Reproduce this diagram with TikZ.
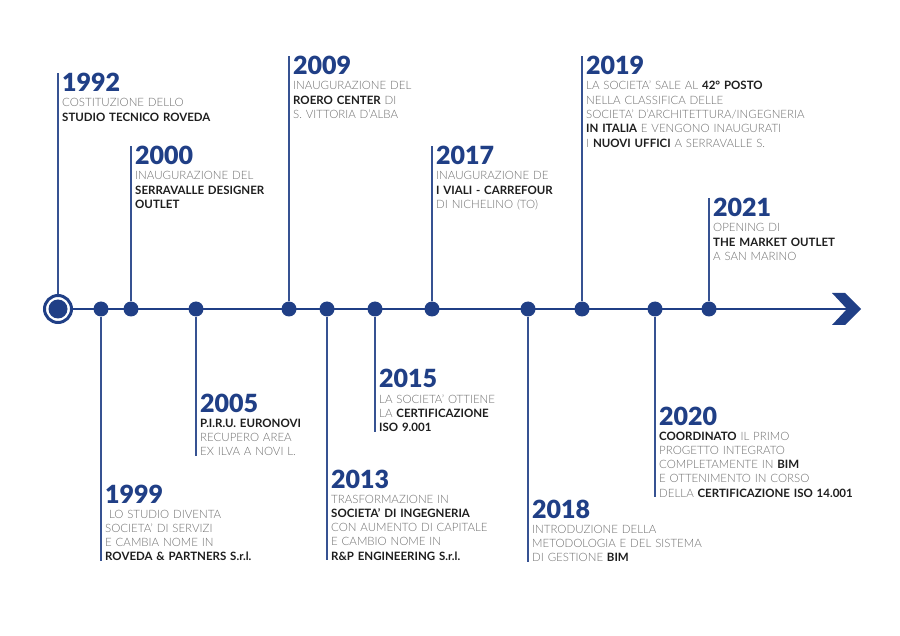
\documentclass[tikz,border=0pt]{standalone}
\usepackage{fontspec}
\setmainfont{Lato}[UprightFont=* Light, BoldFont=* Bold]
\newfontfamily\grasse{Lato Black}

\definecolor{bleu}{HTML}{203F86}
\definecolor{gris}{HTML}{6F6F6F}
\definecolor{noir}{HTML}{1E1E1E}
\newcommand{\gras}[1]{{\bfseries\color{noir}#1}}

\tikzset{
  annee/.style={anchor=base west, inner sep=0pt, text=bleu, font=\fontsize{25}{25}\selectfont\grasse},
  texte/.style={anchor=base west, inner sep=0pt, text=gris, text width=240pt, align=left, font=\fontsize{11.5}{14.3}\selectfont},
  axe/.style={bleu, line width=2.2pt},
  tige/.style={bleu!90!white, line width=1.6pt},
  point/.style={circle, fill=bleu, inner sep=0pt, minimum size=15pt},
}

\begin{document}
\begin{tikzpicture}[x=1pt, y=-1pt]
    \useasboundingbox (0,0) rectangle (900,636);

    % Points de la ligne du temps
    \node[circle, draw=bleu, line width=3pt, minimum size=27pt, inner sep=0pt] (p1992) at (58,309) {};
    \coordinate (fleche) at (847,309);

    % Axe et fleche
    \draw[axe] (p1992.east) -- (fleche);
    \fill[bleu] (832,293) -- (845,293) -- (861,309) -- (845,325) -- (832,325) -- (847,309) -- cycle;
    \fill[bleu] (p1992.center) circle (9.5pt);

    \node[point] (p1999) at (101,309) {};
    \node[point] (p2000) at (131,309) {};
    \node[point] (p2005) at (196,309) {};
    \node[point] (p2009) at (289,309) {};
    \node[point] (p2013) at (327,309) {};
    \node[point] (p2015) at (375,309) {};
    \node[point] (p2017) at (432,309) {};
    \node[point] (p2018) at (528,309) {};
    \node[point] (p2019) at (582,309) {};
    \node[point] (p2020) at (655,309) {};
    \node[point] (p2021) at (709,309) {};

    % Evenements au-dessus
    \node[annee] (a1992) at (62,92) {1992};
    \node[texte] (t1992) at ([yshift=-15pt]a1992.base west) {COSTITUZIONE DELLO\\ \gras{STUDIO TECNICO ROVEDA}};

    \node[annee] (a2000) at (135,165) {2000};
    \node[texte] (t2000) at ([yshift=-15pt]a2000.base west) {INAUGURAZIONE DEL\\ \gras{SERRAVALLE DESIGNER}\\ \gras{OUTLET}};

    \node[annee] (a2009) at (293,75) {2009};
    \node[texte] (t2009) at ([yshift=-15pt]a2009.base west) {INAUGURAZIONE DEL\\ \gras{ROERO CENTER} DI\\ S. VITTORIA D'ALBA};

    \node[annee] (a2017) at (436,165) {2017};
    \node[texte] (t2017) at ([yshift=-15pt]a2017.base west) {INAUGURAZIONE DE\\ \gras{I VIALI - CARREFOUR}\\ DI NICHELINO (TO)};

    \node[annee] (a2019) at (586,75) {2019};
    \node[texte] (t2019) at ([yshift=-15pt]a2019.base west) {LA SOCIETA' SALE AL \gras{42° POSTO}\\ NELLA CLASSIFICA DELLE\\ SOCIETA' D'ARCHITETTURA/INGEGNERIA\\ \gras{IN ITALIA} E VENGONO INAUGURATI\\ I \gras{NUOVI UFFICI} A SERRAVALLE S.};

    \node[annee] (a2021) at (713,217) {2021};
    \node[texte] (t2021) at ([yshift=-15pt]a2021.base west) {OPENING DI\\ \gras{THE MARKET OUTLET}\\ A SAN MARINO};

    % Evenements au-dessous
    \node[annee] (a1999) at (105,503) {1999};
    \node[texte] (t1999) at ([yshift=-15pt]a1999.base west) {\ LO STUDIO DIVENTA\\ SOCIETA' DI SERVIZI\\ E CAMBIA NOME IN\\ \gras{ROVEDA \& PARTNERS S.r.l.}};

    \node[annee] (a2005) at (200,412) {2005};
    \node[texte] (t2005) at ([yshift=-15pt]a2005.base west) {\gras{P.I.R.U. EURONOVI}\\ RECUPERO AREA\\ EX ILVA A NOVI L.};

    \node[annee] (a2013) at (331,488) {2013};
    \node[texte] (t2013) at ([yshift=-15pt]a2013.base west) {TRASFORMAZIONE IN\\ \gras{SOCIETA' DI INGEGNERIA}\\ CON AUMENTO DI CAPITALE\\ E CAMBIO NOME IN\\ \gras{R\&P ENGINEERING S.r.l.}};

    \node[annee] (a2015) at (379,388) {2015};
    \node[texte] (t2015) at ([yshift=-15pt]a2015.base west) {LA SOCIETA' OTTIENE\\ LA \gras{CERTIFICAZIONE}\\ \gras{ISO 9.001}};

    \node[annee] (a2018) at (532,518) {2018};
    \node[texte] (t2018) at ([yshift=-15pt]a2018.base west) {INTRODUZIONE DELLA\\ METODOLOGIA E DEL SISTEMA\\ DI GESTIONE \gras{BIM}};

    \node[annee] (a2020) at (659,425) {2020};
    \node[texte] (t2020) at ([yshift=-15pt]a2020.base west) {\gras{COORDINATO} IL PRIMO\\ PROGETTO INTEGRATO\\ COMPLETAMENTE IN \gras{BIM}\\ E OTTENIMENTO IN CORSO\\ DELLA \gras{CERTIFICAZIONE ISO 14.001}};

    % Tiges vers le haut
    \draw[tige] (p1992.north) -- (p1992 |- a1992.north);
    \draw[tige] (p2000) -- (p2000 |- a2000.north);
    \draw[tige] (p2009) -- (p2009 |- a2009.north);
    \draw[tige] (p2017) -- (p2017 |- a2017.north);
    \draw[tige] (p2019) -- (p2019 |- a2019.north);
    \draw[tige] (p2021) -- (p2021 |- a2021.north);

    % Tiges vers le bas
    \draw[tige] (p1999) -- (p1999 |- t1999.south);
    \draw[tige] (p2005) -- (p2005 |- t2005.south);
    \draw[tige] (p2013) -- (p2013 |- t2013.south);
    \draw[tige] (p2015) -- (p2015 |- t2015.south);
    \draw[tige] (p2018) -- (p2018 |- t2018.south);
    \draw[tige] (p2020) -- (p2020 |- t2020.south);

\end{tikzpicture}
\end{document}
